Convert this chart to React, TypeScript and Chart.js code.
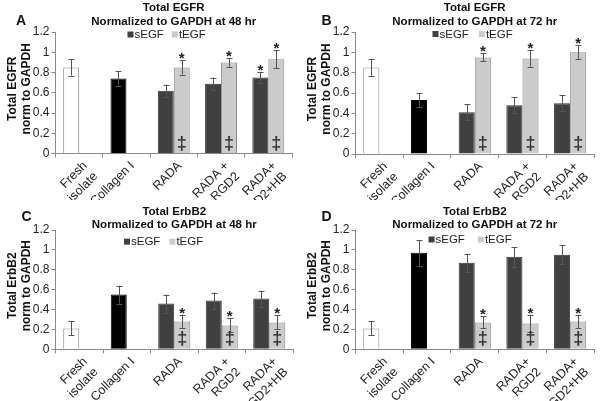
import React, { useEffect, useRef } from 'react';
import { Chart, registerables } from 'chart.js';

Chart.register(...registerables);

// ---------- data ----------
const categoriesABC: (string | string[])[] = [['Fresh', 'isolate'], 'Collagen I', 'RADA', ['RADA +', 'RGD2'], ['RADA+', 'RGD2+HB']];
const categoriesD: (string | string[])[] = [['Fresh', 'isolate'], 'Collagen I', 'RADA', ['RADA+', 'RGD2'], ['RADA+', 'RGD2+HB']];
const seriesNames = ['sEGF', 'tEGF'];

// Panel A: Total EGFR, 48 hr
const aControls = [0.85, 0.74];
const aControlsErr = [0.08, 0.07];
const aSEGF = [0.62, 0.69, 0.75];
const aSEGFErr = [0.06, 0.06, 0.056];
const aTEGF = [0.85, 0.9, 0.93];
const aTEGFErr = [0.07, 0.045, 0.09];
const aSEGFStar = [false, false, true];
const aTEGFStar = [true, true, true];
const aTEGFDagger = [true, true, true];

// Panel B: Total EGFR, 72 hr
const bControls = [0.85, 0.53];
const bControlsErr = [0.08, 0.07];
const bSEGF = [0.41, 0.48, 0.5];
const bSEGFErr = [0.08, 0.08, 0.08];
const bTEGF = [0.95, 0.94, 1.0];
const bTEGFErr = [0.04, 0.08, 0.07];
const bSEGFStar = [false, false, false];
const bTEGFStar = [true, true, true];
const bTEGFDagger = [true, true, true];

// Panel C: Total ErbB2, 48 hr
const cControls = [0.21, 0.55];
const cControlsErr = [0.07, 0.09];
const cSEGF = [0.46, 0.49, 0.51];
const cSEGFErr = [0.09, 0.08, 0.08];
const cTEGF = [0.28, 0.24, 0.27];
const cTEGFErr = [0.07, 0.07, 0.07];
const cSEGFStar = [false, false, false];
const cTEGFStar = [true, true, true];
const cTEGFDagger = [true, true, true];

// Panel D: Total ErbB2, 72 hr
const dControls = [0.21, 0.97];
const dControlsErr = [0.07, 0.13];
const dSEGF = [0.87, 0.93, 0.95];
const dSEGFErr = [0.09, 0.1, 0.095];
const dTEGF = [0.27, 0.26, 0.28];
const dTEGFErr = [0.06, 0.09, 0.07];
const dSEGFStar = [false, false, false];
const dTEGFStar = [true, true, true];
const dTEGFDagger = [true, true, true];

// ---------- styles ----------
const FONT = '"Liberation Sans", Arial, sans-serif';
const COL_FRESH = '#ffffff';
const COL_COLLAGEN = '#000000';
const COL_S = '#404040';
const COL_T = '#cbcbcb';

type PanelCfg = {
  letter: string;
  title: string[];
  yTitle: string[];
  categories: (string | string[])[];
  controls: number[];
  controlsErr: number[];
  sEGF: number[];
  sEGFErr: number[];
  tEGF: number[];
  tEGFErr: number[];
  sStar: boolean[];
  tStar: boolean[];
  tDagger: boolean[];
  x: number;
  y: number;
  h: number;
  left: number;
  right: number;
  top: number;
  bottom: number;
  titleY: number[];
  letterX: number;
  letterY: number;
  legendX: number;
  legendY: number;
  legendGap: number;
};

const panels: PanelCfg[] = [
  {
    letter: 'A', title: ['Total EGFR', 'Normalized to GAPDH at 48 hr'], yTitle: ['Total EGFR', 'norm to GAPDH'],
    categories: categoriesABC, controls: aControls, controlsErr: aControlsErr, sEGF: aSEGF, sEGFErr: aSEGFErr,
    tEGF: aTEGF, tEGFErr: aTEGFErr, sStar: aSEGFStar, tStar: aTEGFStar, tDagger: aTEGFDagger,
    x: 0, y: 0, h: 200, left: 55.5, right: 292, top: 32, bottom: 153.5,
    titleY: [11, 24.5], letterX: 16, letterY: 25, legendX: 127.5, legendY: 34.5, legendGap: 8,
  },
  {
    letter: 'B', title: ['Total EGFR', 'Normalized to GAPDH at 72 hr'], yTitle: ['Total EGFR', 'norm to GAPDH'],
    categories: categoriesABC, controls: bControls, controlsErr: bControlsErr, sEGF: bSEGF, sEGFErr: bSEGFErr,
    tEGF: bTEGF, tEGFErr: bTEGFErr, sStar: bSEGFStar, tStar: bTEGFStar, tDagger: bTEGFDagger,
    x: 300, y: 0, h: 200, left: 55.5, right: 294, top: 32, bottom: 154,
    titleY: [11, 24.5], letterX: 21.5, letterY: 25, legendX: 132.5, legendY: 34, legendGap: 10,
  },
  {
    letter: 'C', title: ['Total ErbB2', 'Normalized to GAPDH at 48 hr'], yTitle: ['Total ErbB2', 'norm to GAPDH'],
    categories: categoriesABC, controls: cControls, controlsErr: cControlsErr, sEGF: cSEGF, sEGFErr: cSEGFErr,
    tEGF: cTEGF, tEGFErr: cTEGFErr, sStar: cSEGFStar, tStar: cTEGFStar, tDagger: cTEGFDagger,
    x: 0, y: 200, h: 201, left: 55.5, right: 293, top: 30, bottom: 149.3,
    titleY: [15, 28.3], letterX: 21.5, letterY: 20.7, legendX: 124, legendY: 41.7, legendGap: 9,
  },
  {
    letter: 'D', title: ['Total ErbB2', 'Normalized to GAPDH at 72 hr'], yTitle: ['Total ErbB2', 'norm to GAPDH'],
    categories: categoriesD, controls: dControls, controlsErr: dControlsErr, sEGF: dSEGF, sEGFErr: dSEGFErr,
    tEGF: dTEGF, tEGFErr: dTEGFErr, sStar: dSEGFStar, tStar: dTEGFStar, tDagger: dTEGFDagger,
    x: 300, y: 200, h: 201, left: 55.5, right: 294, top: 30, bottom: 149.3,
    titleY: [15, 28.3], letterX: 21.5, letterY: 20.7, legendX: 128.5, legendY: 39.5, legendGap: 13,
  },
];

function makeDecor(p: PanelCfg) {
  return {
    id: 'panelDecor',
    afterDatasetsDraw(chart: any) {
      const ctx: CanvasRenderingContext2D = chart.ctx;
      const ys = chart.scales.y;
      const zero = ys.getPixelForValue(0);
      ctx.save();
      chart.data.datasets.forEach((ds: any, di: number) => {
        const meta = chart.getDatasetMeta(di);
        meta.data.forEach((bar: any, i: number) => {
          const v = ds.data[i];
          const e = ds.errors[i];
          if (v == null || e == null) return;
          const yTop = ys.getPixelForValue(v + e);
          const yBot = ys.getPixelForValue(v - e);
          const x = Math.round(bar.x) + 0.5;
          ctx.strokeStyle = '#555';
          ctx.lineWidth = 1;
          ctx.beginPath();
          ctx.moveTo(x, yTop);
          ctx.lineTo(x, yBot);
          ctx.moveTo(x - 3, Math.round(yTop) + 0.5);
          ctx.lineTo(x + 3, Math.round(yTop) + 0.5);
          ctx.moveTo(x - 3, Math.round(yBot) + 0.5);
          ctx.lineTo(x + 3, Math.round(yBot) + 0.5);
          ctx.stroke();
          if (ds.stars[i]) {
            ctx.fillStyle = '#222';
            ctx.font = `bold 15px ${FONT}`;
            ctx.textAlign = 'center';
            ctx.textBaseline = 'alphabetic';
            ctx.fillText('*', bar.x, yTop + 3);
          }
          if (ds.daggers[i]) {
            ctx.fillStyle = '#333';
            ctx.font = `bold 18px ${FONT}`;
            ctx.textAlign = 'center';
            ctx.textBaseline = 'alphabetic';
            ctx.fillText('\u2021', bar.x, zero - 5);
          }
        });
      });

      // title
      const cx = (chart.chartArea.left + chart.chartArea.right) / 2;
      ctx.fillStyle = '#111';
      ctx.font = `bold 11.5px ${FONT}`;
      ctx.textAlign = 'center';
      ctx.textBaseline = 'alphabetic';
      p.title.forEach((t, i) => ctx.fillText(t, cx, p.titleY[i]));

      // panel letter
      ctx.font = `bold 14px ${FONT}`;
      ctx.textAlign = 'left';
      ctx.fillText(p.letter, p.letterX, p.letterY);

      // legend
      ctx.font = `11.5px ${FONT}`;
      ctx.textBaseline = 'middle';
      let lx = p.legendX;
      const cols = [COL_S, COL_T];
      seriesNames.forEach((name, i) => {
        ctx.fillStyle = cols[i];
        ctx.fillRect(lx, p.legendY - 3, 6, 6);
        ctx.fillStyle = '#222';
        ctx.fillText(name, lx + 7, p.legendY + 0.5);
        lx += 7 + ctx.measureText(name).width + p.legendGap;
      });

      // y-axis title
      const cy = (chart.chartArea.top + chart.chartArea.bottom) / 2 - 4;
      ctx.save();
      ctx.translate(0, cy);
      ctx.rotate(-Math.PI / 2);
      ctx.fillStyle = '#111';
      ctx.font = `bold 12px ${FONT}`;
      ctx.textAlign = 'center';
      ctx.textBaseline = 'middle';
      ctx.fillText(p.yTitle[0], 0, 13);
      ctx.fillText(p.yTitle[1], 0, 27);
      ctx.restore();
      ctx.restore();
    },
  };
}

function Panel({ p }: { p: PanelCfg }) {
  const ref = useRef<HTMLCanvasElement>(null);
  useEffect(() => {
    const canvas = ref.current!;
    const slot1 = [...p.controls, ...p.sEGF];
    const slot1Err = [...p.controlsErr, ...p.sEGFErr];
    const slot2 = [null, null, ...p.tEGF];
    const slot2Err = [null, null, ...p.tEGFErr];
    const chart = new Chart(canvas, {
      type: 'bar',
      data: {
        labels: p.categories as any,
        datasets: [
          {
            label: seriesNames[0],
            data: slot1,
            backgroundColor: [COL_FRESH, COL_COLLAGEN, COL_S, COL_S, COL_S],
            borderColor: ['#8a8a8a', '#000000', '#333333', '#333333', '#333333'],
            borderWidth: 1,
            errors: slot1Err,
            stars: [false, false, ...p.sStar],
            daggers: [false, false, false, false, false],
          } as any,
          {
            label: seriesNames[1],
            data: slot2,
            backgroundColor: COL_T,
            borderColor: '#8a8a8a',
            borderWidth: 1,
            errors: slot2Err,
            stars: [false, false, ...p.tStar],
            daggers: [false, false, ...p.tDagger],
          } as any,
        ],
      },
      options: {
        responsive: false,
        animation: false,
        devicePixelRatio: 1,
        events: [],
        layout: { padding: { top: p.top, left: 0, right: 300 - p.right, bottom: 0 } },
        datasets: { bar: { categoryPercentage: 0.675, barPercentage: 1 } },
        plugins: { legend: { display: false }, title: { display: false }, tooltip: { enabled: false } },
        scales: {
          x: {
            afterFit: (s: any) => { s.height = p.h - p.bottom; },
            grid: { drawOnChartArea: false, tickLength: 4, color: '#8a8a8a', offset: true },
            border: { color: '#8a8a8a' },
            ticks: {
              autoSkip: false,
              maxRotation: 45,
              minRotation: 45,
              padding: 1,
              labelOffset: 6,
              color: '#222',
              font: { family: FONT, size: 12.5 },
            },
          },
          y: {
            min: 0,
            max: 1.2,
            afterFit: (s: any) => { s.width = p.left; },
            grid: { drawOnChartArea: false, tickLength: 4, color: '#8a8a8a' },
            border: { color: '#8a8a8a' },
            ticks: {
              stepSize: 0.2,
              padding: 2,
              color: '#222',
              font: { family: FONT, size: 12 },
              callback: (v: any) => String(Number(Number(v).toFixed(1))),
            },
          },
        },
      },
      plugins: [makeDecor(p)],
    });
    return () => chart.destroy();
  }, []);
  return (
    <canvas
      ref={ref}
      width={300}
      height={p.h}
      style={{ position: 'absolute', left: p.x, top: p.y, width: 300, height: p.h, display: 'block' }}
    />
  );
}

export default function App() {
  return (
    <div style={{ position: 'fixed', left: 0, top: 0, width: 600, height: 401, background: '#fff', overflow: 'hidden' }}>
      {panels.map((p) => (
        <Panel key={p.letter} p={p} />
      ))}
    </div>
  );
}
